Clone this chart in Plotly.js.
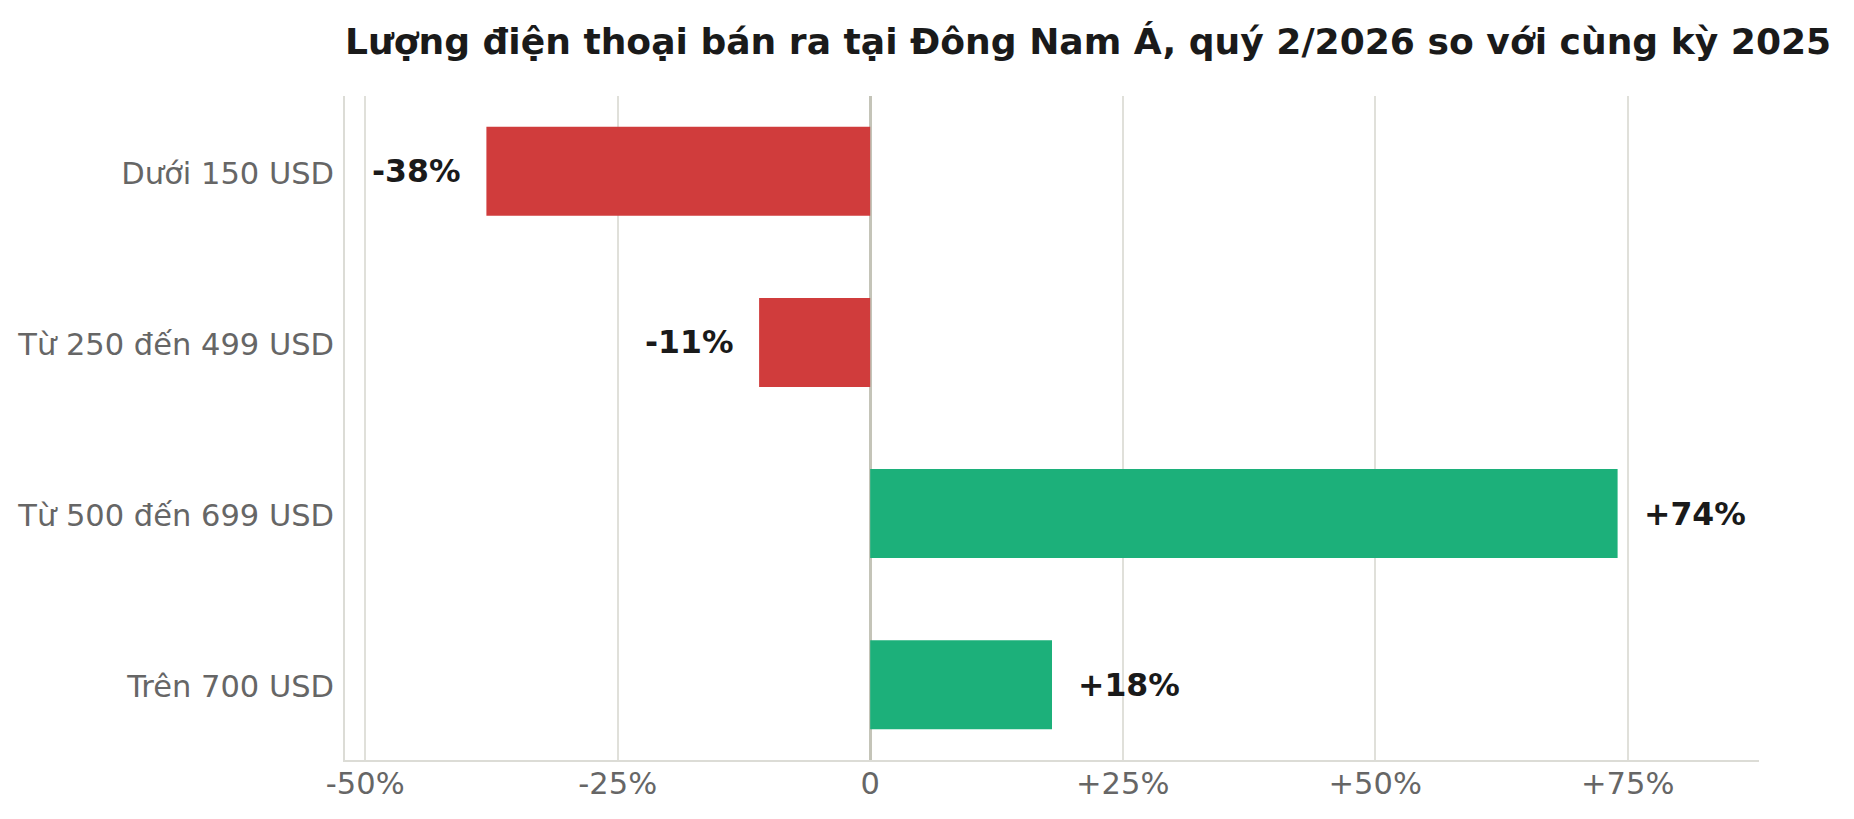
<!DOCTYPE html>
<html>
<head>
<meta charset="utf-8">
<script src="https://cdn.plot.ly/plotly-3.0.1.min.js"></script>
<style>
  html, body { margin: 0; padding: 0; background: #fff; }
  #chart { width: 1854px; height: 819px; }
</style>
</head>
<body>
<div id="chart"></div>
<script>
const categories = ['Dưới 150 USD', 'Từ 250 đến 499 USD', 'Từ 500 đến 699 USD', 'Trên 700 USD'];
const changes = [-38, -11, 74, 18];
const tickValues = [-50, -25, 0, 25, 50, 75];
const tickLabels = ['-50%', '-25%', '0', '+25%', '+50%', '+75%'];

const RED = '#d03c3c';
const GREEN = '#1cb07a';

const fmt = v => (v > 0 ? '+' : '') + v + '%';

var trace = {
    type: 'bar',
    orientation: 'h',
    x: changes,
    y: categories,
    width: 0.52,
    marker: { color: changes.map(v => v < 0 ? RED : GREEN) },
    hoverinfo: 'skip'
};

// value labels beside the bar ends
var labels = changes.map((v, i) => ({
    x: v,
    y: categories[i],
    xref: 'x',
    yref: 'y',
    text: fmt(v),
    showarrow: false,
    xanchor: v < 0 ? 'right' : 'left',
    xshift: v < 0 ? -24 : 24,
    font: { family: 'DejaVu Sans', size: 31.5, color: '#1a1a1a', weight: 'bold' }
}));

const layout = {
    width: 1854,
    height: 819,
    paper_bgcolor: '#ffffff',
    plot_bgcolor: '#ffffff',
    showlegend: false,
    margin: { l: 345, r: 95, t: 96, b: 59 },
    font: { family: 'DejaVu Sans', color: '#666666' },
    title: {
        text: '<b>Lượng điện thoại bán ra tại Đông Nam Á, quý 2/2026 so với cùng kỳ 2025</b>',
        x: 0,
        xref: 'paper',
        xanchor: 'left',
        y: 1 - 41 / 819,
        yanchor: 'middle',
        font: { family: 'DejaVu Sans', size: 36.1, color: '#1a1a1a' }
    },
    xaxis: {
        range: [-52, 88],
        tickvals: tickValues,
        ticktext: tickLabels,
        showgrid: true,
        gridcolor: '#e0e0da',
        gridwidth: 1.8,
        zeroline: true,
        zerolinecolor: '#c4c4b8',
        zerolinewidth: 3,
        showline: true,
        linecolor: '#dcdcd6',
        linewidth: 1.8,
        ticks: '',
        ticklabelstandoff: -4,
        tickfont: { family: 'DejaVu Sans', size: 30.5, color: '#666666' },
        fixedrange: true
    },
    yaxis: {
        autorange: false,
        range: [3.44, -0.44],
        showgrid: false,
        zeroline: false,
        showline: true,
        linecolor: '#dcdcd6',
        linewidth: 1.8,
        ticks: '',
        ticklabelstandoff: 3,
        ticklabelshift: -2,
        tickfont: { family: 'DejaVu Sans', size: 30.5, color: '#666666' },
        fixedrange: true
    },
    annotations: labels
};

Plotly.newPlot('chart', [trace], layout, { displayModeBar: false, staticPlot: true });
</script>
</body>
</html>
